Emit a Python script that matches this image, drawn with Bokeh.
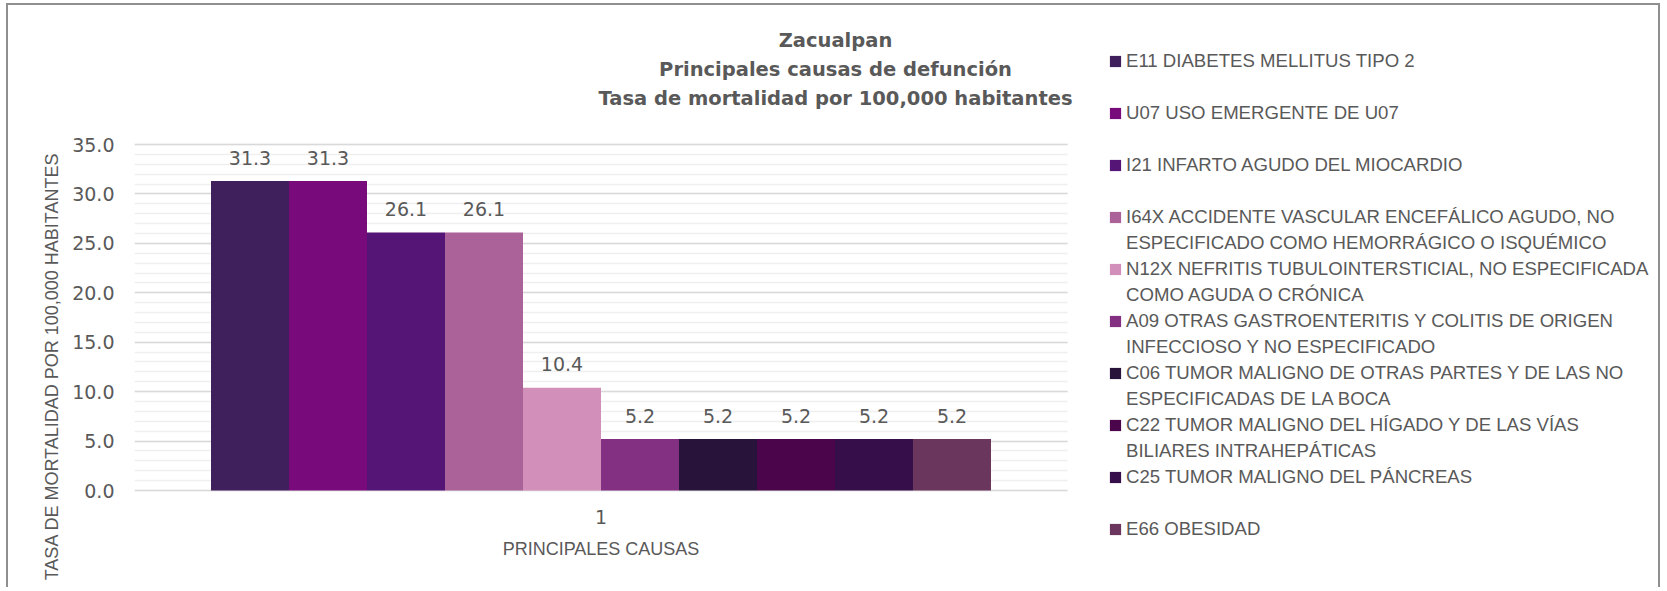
from bokeh.plotting import figure
from bokeh.models import (ColumnDataSource, Range1d, SingleIntervalTicker, Grid,
                          NumeralTickFormatter, Legend, LegendItem, Title, Label)
from bokeh.core.properties import value
from bokeh.embed import file_html
from bokeh.resources import INLINE

# ---------------- data ----------------
title_lines = ["Zacualpan",
               "Principales causas de defunción",
               "Tasa de mortalidad por 100,000 habitantes"]
category = ["1"]
causes = [
    "E11 DIABETES MELLITUS TIPO 2",
    "U07 USO EMERGENTE DE U07",
    "I21 INFARTO AGUDO DEL MIOCARDIO",
    "I64X ACCIDENTE VASCULAR ENCEFÁLICO AGUDO, NO\nESPECIFICADO COMO HEMORRÁGICO O ISQUÉMICO",
    "N12X NEFRITIS TUBULOINTERSTICIAL, NO ESPECIFICADA\nCOMO AGUDA O CRÓNICA",
    "A09 OTRAS GASTROENTERITIS Y COLITIS DE ORIGEN\nINFECCIOSO Y NO ESPECIFICADO",
    "C06 TUMOR MALIGNO DE OTRAS PARTES Y DE LAS NO\nESPECIFICADAS DE LA BOCA",
    "C22 TUMOR MALIGNO DEL HÍGADO Y DE LAS VÍAS\nBILIARES INTRAHEPÁTICAS",
    "C25 TUMOR MALIGNO DEL PÁNCREAS",
    "E66 OBESIDAD",
]
rates = [31.3, 31.3, 26.1, 26.1, 10.4, 5.2, 5.2, 5.2, 5.2, 5.2]
colors = ["#401F5D", "#790A7C", "#551577", "#AA6299", "#D18FB9",
          "#833083", "#28143A", "#4B064B", "#360F4A", "#6A365D"]
y_axis_title = "TASA DE MORTALIDAD POR 100,000 HABITANTES"
x_axis_title = "PRINCIPALES CAUSAS"
y_max, y_step = 35, 5

TXT = "#595959"
NUM_FONT = "DejaVu Sans"
LBL_FONT = "Liberation Sans"

# ---------------- layout (canvas px) ----------------
W, H = 1654, 584
FL, FR, FT, FB = 126, 1059, 139, 485     # plot-area edges
ppu_y = (FB - FT) / y_max                # px per unit on y
ppu_x = (FR - FL) / 1.0                  # one category slot spans the plot area

p = figure(width=W, height=H,
           x_range=Range1d(-0.5, -0.5 + (W - FL) / ppu_x),
           y_range=Range1d(-(H - FB) / ppu_y, FB / ppu_y),
           x_axis_location=None, output_backend="svg", toolbar_location=None,
           title=None, min_border_left=FL, min_border_right=0, min_border_top=0,
           min_border_bottom=0)
p.styles = {"margin-left": "6px", "margin-top": "3px",
            "border-left": "2px solid #8f8f8f", "border-top": "2px solid #8f8f8f",
            "border-right": "2px solid #8f8f8f"}
p.outline_line_color = None
p.background_fill_color = "white"
p.border_fill_color = "white"

# ---------------- y axis ----------------
p.yaxis.ticker = SingleIntervalTicker(interval=y_step, num_minor_ticks=5)
p.yaxis.bounds = (0, y_max)
p.yaxis.formatter = NumeralTickFormatter(format="0.0")
p.yaxis.axis_line_color = None
p.yaxis.major_tick_line_color = None
p.yaxis.minor_tick_line_color = None
p.yaxis.major_tick_out = 0
p.yaxis.major_tick_in = 0
p.yaxis.minor_tick_out = 0
p.yaxis.minor_tick_in = 0
p.yaxis.major_label_standoff = 20
p.yaxis.major_label_text_font = NUM_FONT
p.yaxis.major_label_text_font_size = "19px"
p.yaxis.major_label_text_color = TXT

# ---------------- grid (limited to the plot area) ----------------
for g in p.grid:
    if g.dimension == 0:
        g.visible = False
        g.grid_line_color = None
yg = p.ygrid[0]
yg.bounds = (0, y_max)
yg.grid_line_color = "#d9d9d9"
yg.grid_line_width = 1.5
yg.minor_grid_line_color = "#efefef"
yg.minor_grid_line_width = 1.5
if "cross_bounds" in Grid.properties():
    yg.cross_bounds = (-0.5, 0.5)
else:
    yg.visible = False
    minor = [v for v in range(0, y_max + 1) if v % y_step]
    major = list(range(0, y_max + 1, y_step))
    p.segment(x0=-0.5, x1=0.5, y0=minor, y1=minor, line_color="#efefef", line_width=1.5)
    p.segment(x0=-0.5, x1=0.5, y0=major, y1=major, line_color="#d9d9d9", line_width=1.5)

# y axis title (side title so it can be offset along the axis)
ytitle = Title(text=y_axis_title, align="right", offset=147, standoff=16,
               text_font=LBL_FONT, text_font_size="18px", text_font_style="normal",
               text_color=TXT)
p.add_layout(ytitle, "left")

# ---------------- bars + value labels ----------------
n = len(rates)
group_w = 0.836
bar_w = group_w / n
cat_x = [0.0]
xs = [cat_x[0] + (i - (n - 1) / 2) * bar_w for i in range(n)]
bar_renderers = []
for i in range(n):
    src = ColumnDataSource(dict(x=[xs[i]], val=[rates[i]], lab=[f"{rates[i]:.1f}"]))
    r = p.vbar(x="x", top="val", width=bar_w, source=src,
               fill_color=colors[i], line_color=None)
    p.text(x="x", y="val", text="lab", source=src,
           text_align="center", text_baseline="middle", y_offset=-23.5,
           text_font=value(NUM_FONT), text_font_size="19px", text_color=TXT)
    bar_renderers.append(r)

# category label and category-axis title under the baseline
p.text(x=cat_x, y=[0], text=category, text_align="center", text_baseline="middle",
       y_offset=26, text_font=value(NUM_FONT), text_font_size="19px", text_color=TXT)
p.text(x=cat_x, y=[0], text=[x_axis_title], text_align="center", text_baseline="middle",
       y_offset=58, text_font=value(LBL_FONT), text_font_size="18px", text_color=TXT)

# ---------------- legend ----------------
blank = p.vbar(x=[cat_x[0]], top=[0], width=0, fill_alpha=0, line_alpha=0)
items = []
for i, cause in enumerate(causes):
    lines = cause.split("\n")
    items.append(LegendItem(label=lines[0], renderers=[bar_renderers[i]]))
    items.append(LegendItem(label=lines[1] if len(lines) > 1 else " ", renderers=[blank]))

legend = Legend(items=items, location=(974, 22.9), orientation="vertical",
                label_text_font=LBL_FONT, label_text_font_size="18.6px",
                label_text_color=TXT, label_height=23,
                glyph_width=14, glyph_height=14, label_standoff=4,
                spacing=3, padding=0, margin=0,
                border_line_color=None, background_fill_alpha=0)
p.add_layout(legend)

# ---------------- chart title (three centred lines) ----------------
for k, line in enumerate(title_lines):
    p.add_layout(Label(x=701, y=549 - 29 * k, x_units="screen", y_units="screen",
                       text=line, text_align="center", text_baseline="middle",
                       text_font=NUM_FONT, text_font_style="bold",
                       text_font_size="19.5px", text_color=TXT))

open("out.html", "w").write(file_html(p, INLINE))
